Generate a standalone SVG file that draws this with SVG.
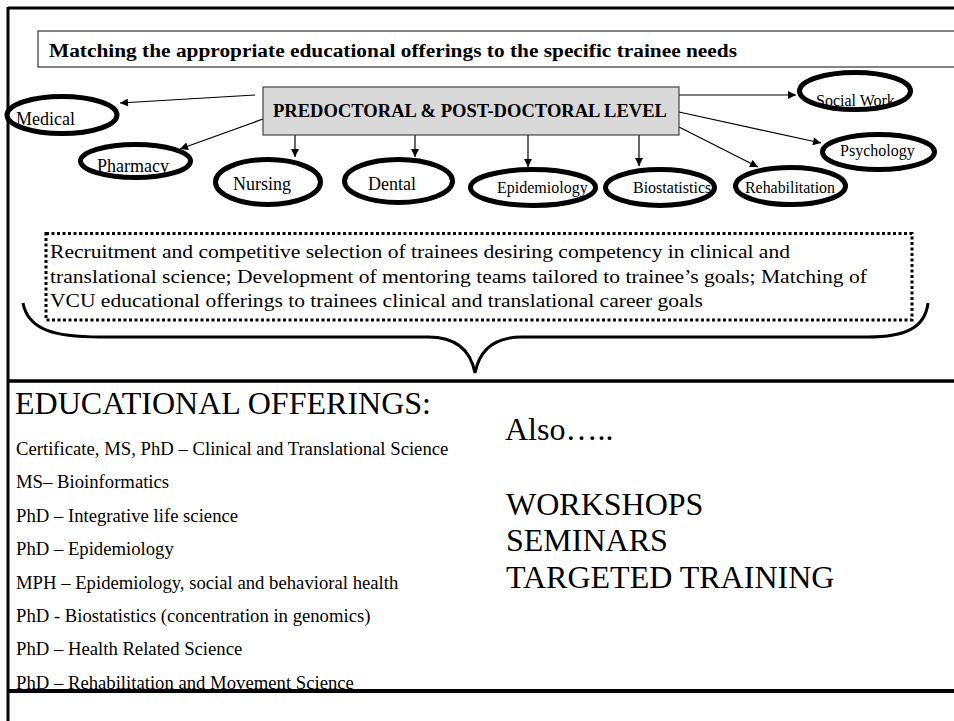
<svg xmlns="http://www.w3.org/2000/svg" width="954" height="721" viewBox="0 0 954 721">
<defs>
<style>
text{font-family:"Liberation Serif","Times New Roman",serif;fill:#000}
.node ellipse{fill:#fff;stroke:#000;stroke-width:5}
.lbl18{font-size:18px}
.lbl16{font-size:16px}
.conn line{stroke:#000;stroke-width:1.2;marker-end:url(#ah)}
.frame{stroke:#000;fill:none}
.item{font-size:18.7px}
.big{font-size:32px}
</style>
<marker id="ah" viewBox="0 0 10 10" refX="10" refY="5" markerWidth="9" markerHeight="8" markerUnits="userSpaceOnUse" orient="auto"><path d="M0,0 L10,5 L0,10 z" fill="#000"/></marker>
</defs>
<rect width="954" height="721" fill="#fff"/>
<g id="frame">
<line class="frame" x1="8" y1="8" x2="954" y2="8" stroke-width="3"/>
<line class="frame" x1="8" y1="7" x2="8" y2="721" stroke-width="3"/>
<line class="frame" x1="8" y1="381" x2="954" y2="381" stroke-width="3.5"/>
<line class="frame" x1="8" y1="691" x2="954" y2="691" stroke-width="4"/>
</g>
<g id="title">
<rect x="38" y="31" width="930" height="36" fill="#fff" stroke="#333" stroke-width="1.2"/>
<text x="49" y="57" font-size="18" font-weight="bold" textLength="688" lengthAdjust="spacingAndGlyphs">Matching the appropriate educational offerings to the specific trainee needs</text>
</g>
<g id="connectors" class="conn">
<line x1="255" y1="95" x2="120" y2="103"/>
<line x1="263" y1="119" x2="180" y2="149"/>
<line x1="295" y1="135" x2="295" y2="157"/>
<line x1="415" y1="135" x2="415" y2="157"/>
<line x1="528" y1="135" x2="528" y2="167"/>
<line x1="639" y1="135" x2="639" y2="166"/>
<line x1="679" y1="95" x2="796" y2="95"/>
<line x1="679" y1="112" x2="821" y2="143"/>
<line x1="679" y1="127" x2="758" y2="167"/>
</g>
<g id="predoc">
<rect x="263" y="87" width="416" height="48" fill="#d9d9d9" stroke="#444" stroke-width="1.2"/>
<text x="470" y="117" font-size="18" font-weight="bold" text-anchor="middle" textLength="394" lengthAdjust="spacingAndGlyphs">PREDOCTORAL &amp; POST-DOCTORAL LEVEL</text>
</g>
<g id="medical" class="node"><ellipse cx="62" cy="115" rx="55" ry="18.5"/><text class="lbl18" x="16" y="125">Medical</text></g>
<g id="pharmacy" class="node"><ellipse cx="135.5" cy="161" rx="55" ry="16.5"/><text class="lbl18" x="97" y="172">Pharmacy</text></g>
<g id="nursing" class="node"><ellipse cx="268" cy="182" rx="52.5" ry="22.5"/><text class="lbl18" x="233" y="190">Nursing</text></g>
<g id="dental" class="node"><ellipse cx="398.5" cy="181" rx="54" ry="21.5"/><text class="lbl18" x="368" y="190">Dental</text></g>
<g id="epidemiology" class="node"><ellipse cx="533" cy="187.5" rx="62.5" ry="18"/><text class="lbl16" x="497" y="193">Epidemiology</text></g>
<g id="biostatistics" class="node"><ellipse cx="660" cy="187.5" rx="54.5" ry="18"/><text class="lbl16" x="633" y="193">Biostatistics</text></g>
<g id="rehabilitation" class="node"><ellipse cx="790.5" cy="186" rx="55" ry="18.5"/><text class="lbl16" x="745" y="193" textLength="90" lengthAdjust="spacingAndGlyphs">Rehabilitation</text></g>
<g id="psychology" class="node"><ellipse cx="878.5" cy="152" rx="56" ry="17.5"/><text class="lbl16" x="840" y="156">Psychology</text></g>
<g id="socialwork" class="node"><ellipse cx="855" cy="91" rx="55.5" ry="18.5"/><text class="lbl16" x="816" y="106">Social Work</text></g>
<g id="recruitment">
<rect x="46" y="233.5" width="866" height="86.5" fill="none" stroke="#000" stroke-width="3" stroke-dasharray="3 2.5"/>
<text x="50" y="258" font-size="19" textLength="740" lengthAdjust="spacingAndGlyphs">Recruitment and competitive selection of trainees desiring competency in clinical and</text>
<text x="50" y="283" font-size="19" textLength="817" lengthAdjust="spacingAndGlyphs">translational science; Development of mentoring teams tailored to trainee’s goals; Matching of</text>
<text x="50" y="307" font-size="19" textLength="653" lengthAdjust="spacingAndGlyphs">VCU educational offerings to trainees clinical and translational career goals</text>
</g>
<g id="brace">
<path d="M23,303 C28,330 55,337 100,337 L428,337 C458,337 471,352 475,373 C479,352 492,337 522,337 L868,337 C905,337 925,328 928,303" fill="none" stroke="#000" stroke-width="3"/>
</g>
<g id="offerings">
<text class="big" x="15" y="414" textLength="416" lengthAdjust="spacingAndGlyphs">EDUCATIONAL OFFERINGS:</text>
<text class="item" x="16" y="455">Certificate, MS, PhD – Clinical and Translational Science</text>
<text class="item" x="16" y="488.4">MS– Bioinformatics</text>
<text class="item" x="16" y="521.8">PhD – Integrative life science</text>
<text class="item" x="16" y="555.2">PhD – Epidemiology</text>
<text class="item" x="16" y="588.6">MPH – Epidemiology, social and behavioral health</text>
<text class="item" x="16" y="622">PhD  - Biostatistics (concentration in genomics)</text>
<text class="item" x="16" y="655.4">PhD – Health Related Science</text>
<text class="item" x="16" y="688.8">PhD – Rehabilitation and Movement Science</text>
</g>
<g id="also">
<text class="big" x="505" y="440">Also…..</text>
<text class="big" x="506" y="515">WORKSHOPS</text>
<text class="big" x="506" y="551">SEMINARS</text>
<text class="big" x="506" y="588">TARGETED TRAINING</text>
</g>
</svg>
